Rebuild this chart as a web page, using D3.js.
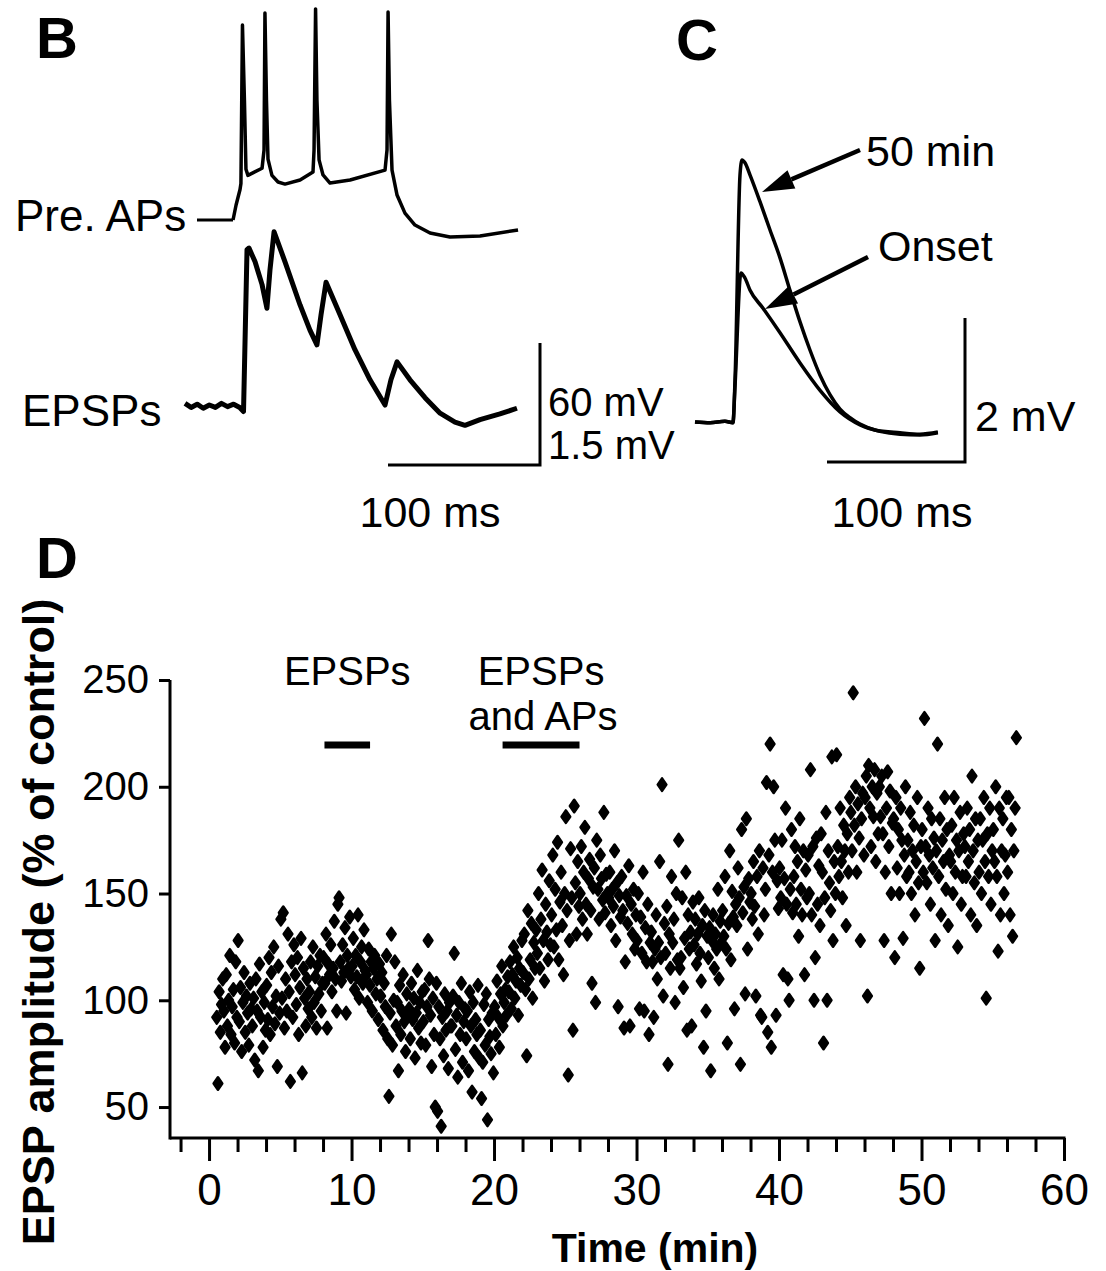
<!DOCTYPE html>
<html><head><meta charset="utf-8">
<script src="https://cdn.jsdelivr.net/npm/d3@7"></script>
<style>
body{margin:0;background:#fff}
svg{display:block;background:#fff}
text{font-family:"Liberation Sans",Arial,Helvetica,sans-serif;fill:#000}
</style>
</head><body><svg id="fig" width="1106" height="1271"></svg>
<script>
// ---------- Panel B: presynaptic action potentials (ms, mV) ----------
const apTrace = [[31.6,-65],[33.6,-57.6],[36.2,-50],[36.8,-47],[37.8,31],[39.1,-6],[40.1,-40],[41.4,-43],
  [50.7,-39.5],[52,-30.5],[52.6,37],[53.6,-6],[54.6,-35],[57.2,-43],[61.2,-46.3],[65.8,-47.3],[75.7,-45.3],
  [84.2,-41.4],[84.9,-30.5],[85.9,39],[86.8,-6],[88.2,-35.4],[90.8,-42.8],[95.4,-46.8],[108.6,-45.3],
  [131.6,-40.4],[132.9,-30.5],[133.6,37.5],[134.5,-6],[136.2,-40.4],[139.5,-52.7],[144.7,-61.6],
  [151.3,-67.5],[161.2,-71.4],[174.3,-73.4],[194.1,-72.9],[219.1,-69.9]];
// ---------- Panel B: EPSPs (ms, mV) ----------
const epspTrace = [[0,0.02],[4,-0.03],[8,0.01],[12,-0.04],[16,0.0],[20,-0.03],[24,0.02],[28,-0.02],[32,0.01],
  [36,-0.03],[38.5,-0.08],[40.8,1.91],[42.1,1.93],[46.1,1.76],[50.7,1.48],[53.9,1.19],[55.9,1.66],[58.6,2.13],
  [65.8,1.76],[75.7,1.23],[82.2,0.92],[86.8,0.74],[89.5,1.11],[92.8,1.51],[102,1.11],[111.8,0.68],[121.7,0.31],
  [131.6,0.0],[135.5,0.31],[139.5,0.53],[148,0.31],[157.9,0.09],[167.8,-0.1],[177.6,-0.21],[184.2,-0.25],
  [194.1,-0.18],[207.2,-0.11],[218.4,-0.04]];
// ---------- Panel C: averaged EPSPs (ms, mV) ----------
const epsp50min = [[0,0],[10.9,-0.01],[21.7,0.01],[27.5,-0.01],[29,0.58],[32.6,3.43],[34.1,3.64],[36.2,3.6],
  [39.9,3.43],[47.1,3.06],[54.3,2.67],[61.6,2.28],[68.8,1.83],[76.1,1.39],[83.3,1.0],[90.6,0.65],[97.8,0.38],
  [105.1,0.18],[112.3,0.06],[119.6,-0.03],[130.4,-0.11],[148.6,-0.15],[163,-0.17],[176,-0.14]];
const epspOnset = [[0,0],[10.9,-0.01],[21.7,0.01],[27.5,-0.01],[29,0.5],[33.3,2.07],[36.2,2.0],[39.9,1.83],
  [49.3,1.58],[61.6,1.24],[76.1,0.82],[90.6,0.44],[105.1,0.14],[119.6,-0.04],[134,-0.13],[148.6,-0.17],
  [163,-0.18],[176,-0.15]];
// ---------- Panel D: EPSP amplitude (% of control), one row per minute ----------
const recordStart = 0.5, recordEnd = 56.7;
const amplitudeByMinute = [
 [92,61,104,85,98,110],
 [95,78,112,88,100,121,84,97,105,80,118,92],
 [128,90,106,76,99,113,85,102,94,79,108,96],
 [88,101,72,110,95,67,117,92,104,78,99,86],
 [107,91,120,84,113,97,125,89,102,69,116,94],
 [138,101,141,87,110,95,131,104,62,118,92,126],
 [112,98,120,84,106,129,66,115,101,88,110,96],
 [104,118,92,125,99,111,87,116,103,121,95,108],
 [120,108,131,87,117,112,126,104,115,137,110,95],
 [145,148,118,109,126,113,134,94,121,115,139,111],
 [116,129,105,121,111,140,101,118,125,108,133,114],
 [112,99,124,107,118,95,115,121,103,110,91,117],
 [102,113,86,108,97,121,82,55,94,131,79,100],
 [118,88,99,67,107,84,95,112,90,76,103,93],
 [96,82,108,91,101,73,94,114,87,99,80,104],
 [90,105,79,97,128,110,93,69,101,84,50,108],
 [48,97,82,41,92,74,103,86,95,68,99,88],
 [88,102,122,77,93,64,99,84,108,71,90,96],
 [82,95,67,104,88,57,99,76,91,84,107,73],
 [86,54,71,98,79,103,44,91,83,75,94,66],
 [97,84,109,92,78,103,116,88,99,105,93,111],
 [104,118,96,112,125,101,109,120,93,115,107,128],
 [113,131,105,74,142,110,119,136,101,127,115,133],
 [122,150,115,138,161,128,109,145,132,119,156,126],
 [140,168,125,152,133,174,119,146,160,135,112,150],
 [186,142,65,128,171,148,86,191,155,131,165,144],
 [150,172,138,160,181,145,131,157,166,142,108,153],
 [162,99,175,152,138,168,157,147,188,141,159,150],
 [148,160,135,152,144,170,128,155,97,149,139,158],
 [142,87,118,149,136,163,88,145,131,152,124,140],
 [128,150,96,139,122,160,95,134,118,145,84,127],
 [132,118,92,124,140,110,127,165,120,201,102,136],
 [122,144,70,131,115,158,127,138,99,150,119,175],
 [115,120,148,106,129,160,86,140,124,132,88,146],
 [126,138,117,131,148,122,109,135,78,142,95,130],
 [120,134,67,128,140,115,131,124,152,110,137,127],
 [142,130,158,124,80,136,170,119,151,139,96,145],
 [135,162,148,70,180,141,153,103,185,124,157,146],
 [150,138,165,144,102,158,131,170,93,92,162,140],
 [152,202,85,168,220,78,160,200,175,93,156,143],
 [162,148,175,112,157,190,145,110,100,152,180,141],
 [158,172,145,165,130,185,152,140,170,112,161,148],
 [168,150,208,140,172,100,120,176,145,163,135,178],
 [160,80,148,188,100,170,155,142,214,128,165,150],
 [215,172,158,190,165,148,182,170,135,178,160,195],
 [188,170,244,182,200,160,192,176,128,185,197,168],
 [195,205,102,210,190,172,200,186,208,165,197,178],
 [200,186,205,178,128,160,190,207,172,198,150,183],
 [185,120,195,162,180,150,190,175,129,168,200,158],
 [175,160,188,150,170,182,140,165,195,155,115,172],
 [180,160,232,172,155,190,168,145,185,162,176,128],
 [170,220,158,185,140,175,165,195,152,180,135,168],
 [165,182,150,195,160,175,125,170,188,145,158,178],
 [172,158,190,165,180,140,205,170,155,185,135,175],
 [160,185,150,175,195,165,101,178,158,190,145,170],
 [180,165,200,158,123,190,140,170,185,150,168,195],
 [160,195,140,180,130,170,190,223]
];
const yTicks = [50,100,150,200,250];
const xLabelTicks = [0,10,20,30,40,50,60];
const xMinorTicks = [-2,0,2,4,6,8,10,12,14,16,18,20,22,24,26,28,30,32,34,36,38,40,42,44,46,48,50,52,54,56,58,60];
const periods = [{label:["EPSPs"], start:8.1, end:11.3},{label:["EPSPs","and APs"], start:20.6, end:26.0}];

// ---------- drawing ----------
const svg = d3.select("#fig");
const FS = 43;
function txt(x,y,s,opts={}){
  const t = svg.append("text").attr("x",x).attr("y",y).text(s).style("font-size",(opts.size||FS)+"px");
  if(opts.anchor) t.attr("text-anchor",opts.anchor);
  if(opts.bold) t.style("font-weight","bold");
  return t;
}
// panel letters
txt(36,58,"B",{size:58,bold:true});
txt(676,60,"C",{size:58,bold:true});
txt(36,578,"D",{size:58,bold:true});

// Panel B
const xB = d3.scaleLinear().domain([0,100]).range([185,337]);
const yAP = d3.scaleLinear().domain([-65,35]).range([220,17]);
const yEP = d3.scaleLinear().domain([0,1.5]).range([405,283]);
const lineAP = d3.line().x(d=>xB(d[0])).y(d=>yAP(d[1]));
const lineEP = d3.line().x(d=>xB(d[0])).y(d=>yEP(d[1]));
svg.append("path").attr("d",lineAP(apTrace)).attr("fill","none").attr("stroke","#000")
  .attr("stroke-width",3.5).attr("stroke-linejoin","round");
svg.append("path").attr("d",lineEP(epspTrace)).attr("fill","none").attr("stroke","#000")
  .attr("stroke-width",5).attr("stroke-linejoin","round");
txt(15,231,"Pre. APs",{size:44});
svg.append("line").attr("x1",197).attr("x2",xB(apTrace[0][0])).attr("y1",yAP(-65)).attr("y2",yAP(-65))
  .attr("stroke","#000").attr("stroke-width",3);
txt(22,426,"EPSPs",{size:44});
// scale bar B
const sbBx = 540, sbBy = 465;
svg.append("path").attr("d",`M${sbBx-(xB(100)-xB(0))},${sbBy}H${sbBx}V${sbBy-(yEP(0)-yEP(1.5))}`)
  .attr("fill","none").attr("stroke","#000").attr("stroke-width",3);
txt(548,416,"60 mV",{size:40});
txt(548,459,"1.5 mV",{size:40});
txt(430,527,"100 ms",{anchor:"middle"});

// Panel C
const xC = d3.scaleLinear().domain([0,100]).range([695,833]);
const yC = d3.scaleLinear().domain([0,2]).range([422,278]);
const lineC = d3.line().x(d=>xC(d[0])).y(d=>yC(d[1])).curve(d3.curveMonotoneX);
[epsp50min, epspOnset].forEach(tr=>{
  svg.append("path").attr("d",lineC(tr)).attr("fill","none").attr("stroke","#000")
    .attr("stroke-width",3.5).attr("stroke-linejoin","round");
});
const sbCx = 965, sbCy = 462;
svg.append("path").attr("d",`M${sbCx-(xC(100)-xC(0))},${sbCy}H${sbCx}V${sbCy-(yC(0)-yC(2))}`)
  .attr("fill","none").attr("stroke","#000").attr("stroke-width",3);
txt(975,431,"2 mV");
txt(902,527,"100 ms",{anchor:"middle"});
function arrow(x1,y1,x2,y2){
  const a = Math.atan2(y2-y1,x2-x1), L=32, W=10;
  const bx = x2-L*Math.cos(a), by = y2-L*Math.sin(a);
  svg.append("line").attr("x1",x1).attr("y1",y1).attr("x2",bx).attr("y2",by)
    .attr("stroke","#000").attr("stroke-width",4.5);
  svg.append("path").attr("d",`M${x2},${y2}L${bx+W*Math.sin(a)},${by-W*Math.cos(a)}L${bx-W*Math.sin(a)},${by+W*Math.cos(a)}Z`)
    .attr("fill","#000");
}
arrow(860,150,762,192);
arrow(868,257,765,309);
txt(866,166,"50 min");
txt(878,261,"Onset");

// Panel D
const xD = d3.scaleLinear().domain([-2.74,60]).range([170,1064]);
const yD = d3.scaleLinear().domain([35.5,250]).range([1138,680]);
const gx = svg.append("g").attr("transform","translate(0,1138)")
  .call(d3.axisBottom(xD).tickValues(xMinorTicks).tickSizeOuter(0).tickSize(14)
    .tickFormat(d=>xLabelTicks.includes(d)?d:""));
gx.select(".domain").attr("stroke-width",3).attr("d",`M170,0H${xD(60)+1.5}`);
gx.selectAll(".tick line").attr("stroke-width",3).attr("y2",d=>xLabelTicks.includes(d)?23:14);
gx.selectAll(".tick text").attr("y",36).style("font-size","44px")
  .style("font-family",'"Liberation Sans",Arial,sans-serif');
const gy = svg.append("g").attr("transform","translate(170,0)")
  .call(d3.axisLeft(yD).tickValues(yTicks).tickSize(11).tickSizeOuter(0).tickPadding(10));
gy.select(".domain").attr("stroke-width",3).attr("d",`M0,${yD(250)}V1139.5`);
gy.selectAll(".tick line").attr("stroke-width",3);
gy.selectAll(".tick text").style("font-size","40px").style("font-family",'"Liberation Sans",Arial,sans-serif');
svg.append("text").attr("transform","translate(54,922) rotate(-90)").attr("text-anchor","middle")
  .style("font-size","45px").style("font-weight","bold").text("EPSP amplitude (% of control)");
txt(655,1262,"Time (min)",{size:41,bold:true,anchor:"middle"});

// period bars
periods.forEach(p=>{
  svg.append("line").attr("x1",xD(p.start)).attr("x2",xD(p.end)).attr("y1",745).attr("y2",745)
    .attr("stroke","#000").attr("stroke-width",7);
  const cx = (xD(p.start)+xD(p.end))/2;
  p.label.forEach((s,i)=>txt(cx+(i?2:0),685+45*i,s,{anchor:"middle",size:40}));
});

// scatter points
const pts = [];
amplitudeByMinute.forEach((vals,m)=>{
  const t0 = Math.max(m, recordStart), t1 = Math.min(m+1, recordEnd);
  vals.forEach((v,i)=>pts.push([t0+(i+0.5)/vals.length*(t1-t0), v]));
});
svg.append("g").selectAll("path").data(pts).join("path")
  .attr("transform",d=>`translate(${xD(d[0])},${yD(d[1])})`)
  .attr("d","M0,-6.2L4.3,0L0,6.2L-4.3,0Z")
  .attr("fill","#000").attr("stroke","#000").attr("stroke-width",2.6).attr("stroke-linejoin","round");
</script></body></html>
